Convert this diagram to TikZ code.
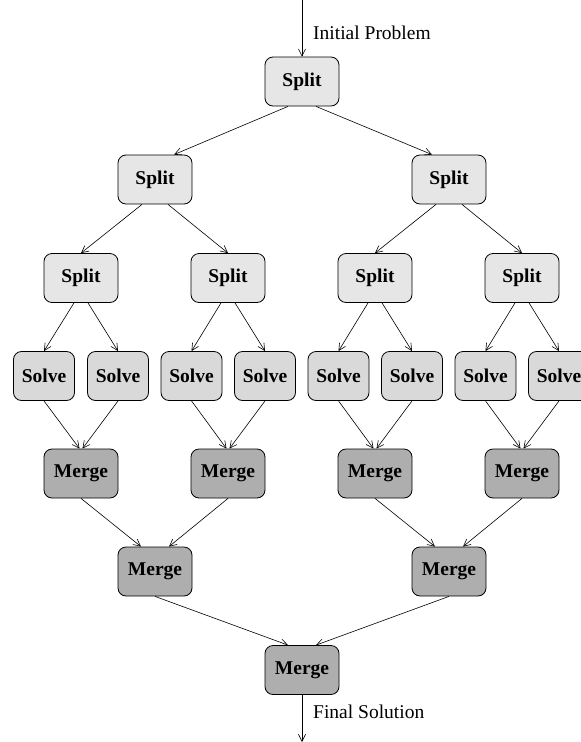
\documentclass[tikz,border=0pt]{standalone}
\usepackage{fontspec}
\setmainfont{Liberation Serif}
\usetikzlibrary{arrows.meta}
\definecolor{splitfill}{HTML}{E6E6E6}
\definecolor{solvefill}{HTML}{D9D9D9}
\definecolor{mergefill}{HTML}{AEAEAE}
\begin{document}
\begin{tikzpicture}[x=1pt,y=-1pt,
  box/.style={draw,line width=0.8pt,rounded corners=8pt,minimum height=49pt,
    inner sep=0pt,font=\fontsize{19.5}{23}\selectfont\bfseries},
  splitbox/.style={box,fill=splitfill,minimum width=74pt},
  solvebox/.style={box,fill=solvefill,minimum width=61pt},
  mergebox/.style={box,fill=mergefill,minimum width=74pt},
  arr/.style={line width=0.6pt,-{Straight Barb[length=7pt,width=7pt]}},
  lbl/.style={font=\fontsize{19.5}{23}\selectfont,anchor=west,inner sep=0pt}]
\useasboundingbox (0,0) rectangle (581,742);

% splitting tree
\node[splitbox] (s0) at (302,81.5) {Split};
\node[splitbox] (s1) at (155,179.5) {Split};
\node[splitbox] (s2) at (449,179.5) {Split};
\node[splitbox] (s11) at (81,278) {Split};
\node[splitbox] (s12) at (228,278) {Split};
\node[splitbox] (s21) at (375,278) {Split};
\node[splitbox] (s22) at (522,278) {Split};

% leaf solves
\node[solvebox] (v1) at (44,376) {Solve};
\node[solvebox] (v2) at (118,376) {Solve};
\node[solvebox] (v3) at (191.5,376) {Solve};
\node[solvebox] (v4) at (265,376) {Solve};
\node[solvebox] (v5) at (338.5,376) {Solve};
\node[solvebox] (v6) at (412,376) {Solve};
\node[solvebox] (v7) at (485.5,376) {Solve};
\node[solvebox] (v8) at (559,376) {Solve};

% merging tree
\node[mergebox] (m11) at (81,473.5) {Merge};
\node[mergebox] (m12) at (228,473.5) {Merge};
\node[mergebox] (m21) at (375,473.5) {Merge};
\node[mergebox] (m22) at (522,473.5) {Merge};
\node[mergebox] (m1) at (155,571.5) {Merge};
\node[mergebox] (m2) at (449,571.5) {Merge};
\node[mergebox] (m0) at (302,670) {Merge};

% input and output
\coordinate (in) at (302,0);
\coordinate (out) at (302,742);
\draw[arr] (in) -- (s0.north);
\node[lbl] at (313,33) {Initial Problem};
\draw[arr] (m0.south) -- (out);
\node[lbl] at (313,712) {Final Solution};

% split edges
\draw[arr] ([xshift=-14pt]s0.south) -- ([xshift=19pt]s1.north);
\draw[arr] ([xshift=14pt]s0.south) -- ([xshift=-17pt]s2.north);
\foreach \p/\a/\b in {s1/s11/s12, s2/s21/s22}{
  \draw[arr] ([xshift=-13pt]\p.south) -- (\a.north);
  \draw[arr] ([xshift=13pt]\p.south) -- (\b.north);
}
\foreach \p/\a/\b in {s11/v1/v2, s12/v3/v4, s21/v5/v6, s22/v7/v8}{
  \draw[arr] ([xshift=-7pt]\p.south) -- (\a.north);
  \draw[arr] ([xshift=7pt]\p.south) -- (\b.north);
}

% merge edges
\foreach \a/\b/\m in {v1/v2/m11, v3/v4/m12, v5/v6/m21, v7/v8/m22}{
  \draw[arr] (\a.south) -- ([xshift=-1.5pt]\m.north);
  \draw[arr] (\b.south) -- ([xshift=1.5pt]\m.north);
}
\foreach \a/\b/\m in {m11/m12/m1, m21/m22/m2, m1/m2/m0}{
  \draw[arr] (\a.south) -- ([xshift=-14pt]\m.north);
  \draw[arr] (\b.south) -- ([xshift=14pt]\m.north);
}
\end{tikzpicture}
\end{document}
